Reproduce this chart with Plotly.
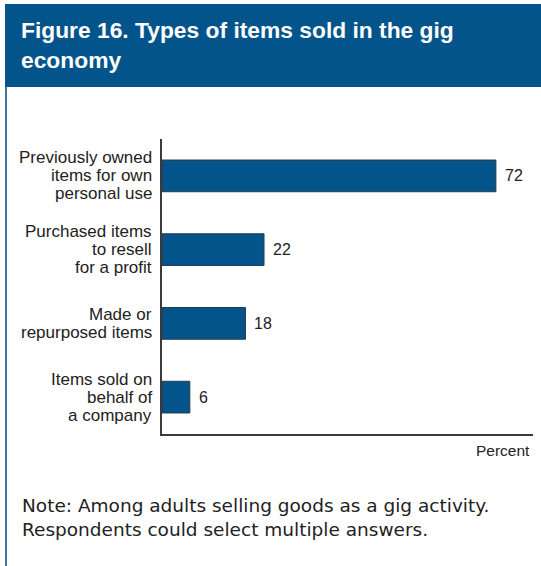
import plotly.graph_objects as go

# Survey results: share of gig sellers by type of item sold
categories = [
    "Previously owned<br>items for own<br>personal use",
    "Purchased items<br>to resell<br>for a profit",
    "Made or<br>repurposed items",
    "Items sold on<br>behalf of<br>a company",
]
percent = [72, 22, 18, 6]

W, H = 541, 566
L, R, T, B = 162, 8, 139, 132
pw, ph = W - L - R, H - T - B

def px(x):
    return (x - L) / pw

def py(y):
    return (H - B - y) / ph

BLUE = "#03548B"
TEXT = "#222222"
FONT = "Liberation Sans"
LINE_GAP = 18  # spacing between lines of a category label

fig = go.Figure(
    go.Bar(
        x=percent,
        y=categories,
        orientation="h",
        width=0.43,
        marker=dict(color=BLUE, line=dict(color="#2b3a4a", width=1)),
        hoverinfo="skip",
    )
)

for c, v in zip(categories, percent):
    # value label at the end of each bar
    fig.add_annotation(
        x=v, y=c, xref="x", yref="y", text=str(v), showarrow=False,
        xanchor="left", xshift=7, font=dict(family=FONT, size=16, color=TEXT),
    )
    # category label, one line at a time for tight leading
    lines = c.split("<br>")
    n = len(lines)
    for i, ln in enumerate(lines):
        fig.add_annotation(
            x=0, y=c, xref="paper", yref="y", text=ln, showarrow=False,
            xanchor="right", xshift=-8, yshift=((n - 1) / 2 - i) * LINE_GAP,
            font=dict(family=FONT, size=17, color=TEXT),
        )

# title banner
fig.add_shape(type="rect", xref="paper", yref="paper",
              x0=px(5), x1=px(545), y0=py(87), y1=py(4),
              fillcolor=BLUE, line_width=0, layer="below")
# left frame rule
fig.add_shape(type="line", xref="paper", yref="paper",
              x0=px(6), x1=px(6), y0=py(87), y1=py(570),
              line=dict(color="#3C77A8", width=2))

fig.add_annotation(
    xref="paper", yref="paper", x=px(19), y=py(15), xanchor="left", yanchor="top",
    align="left", showarrow=False,
    text="<b>Figure 16. Types of items sold in the gig<br>economy</b>",
    font=dict(family=FONT, size=22.8, color="white"),
)

fig.add_annotation(
    xref="paper", yref="paper", x=px(532), y=py(440), xanchor="right", yanchor="top",
    showarrow=False, text="Percent", font=dict(family=FONT, size=15.5, color=TEXT),
)

fig.add_annotation(
    xref="paper", yref="paper", x=px(20), y=py(493), xanchor="left", yanchor="top",
    align="left", showarrow=False,
    text="Note: Among adults selling goods as a gig activity.<br>Respondents could select multiple answers.",
    font=dict(family="DejaVu Sans", size=18.5, color=TEXT),
)

fig.update_layout(
    width=W, height=H,
    margin=dict(l=L, r=R, t=T, b=B, pad=0),
    paper_bgcolor="white", plot_bgcolor="white",
    showlegend=False,
    xaxis=dict(range=[0, 80], showgrid=False, showticklabels=False, ticks="",
               showline=True, linecolor="#3a3a3a", linewidth=1.5, zeroline=False, fixedrange=True),
    yaxis=dict(autorange="reversed", showgrid=False, ticks="", showline=True,
               showticklabels=False,
               linecolor="#3a3a3a", linewidth=1.5, fixedrange=True),
)

fig.write_html("out.html", config={"displayModeBar": False})
